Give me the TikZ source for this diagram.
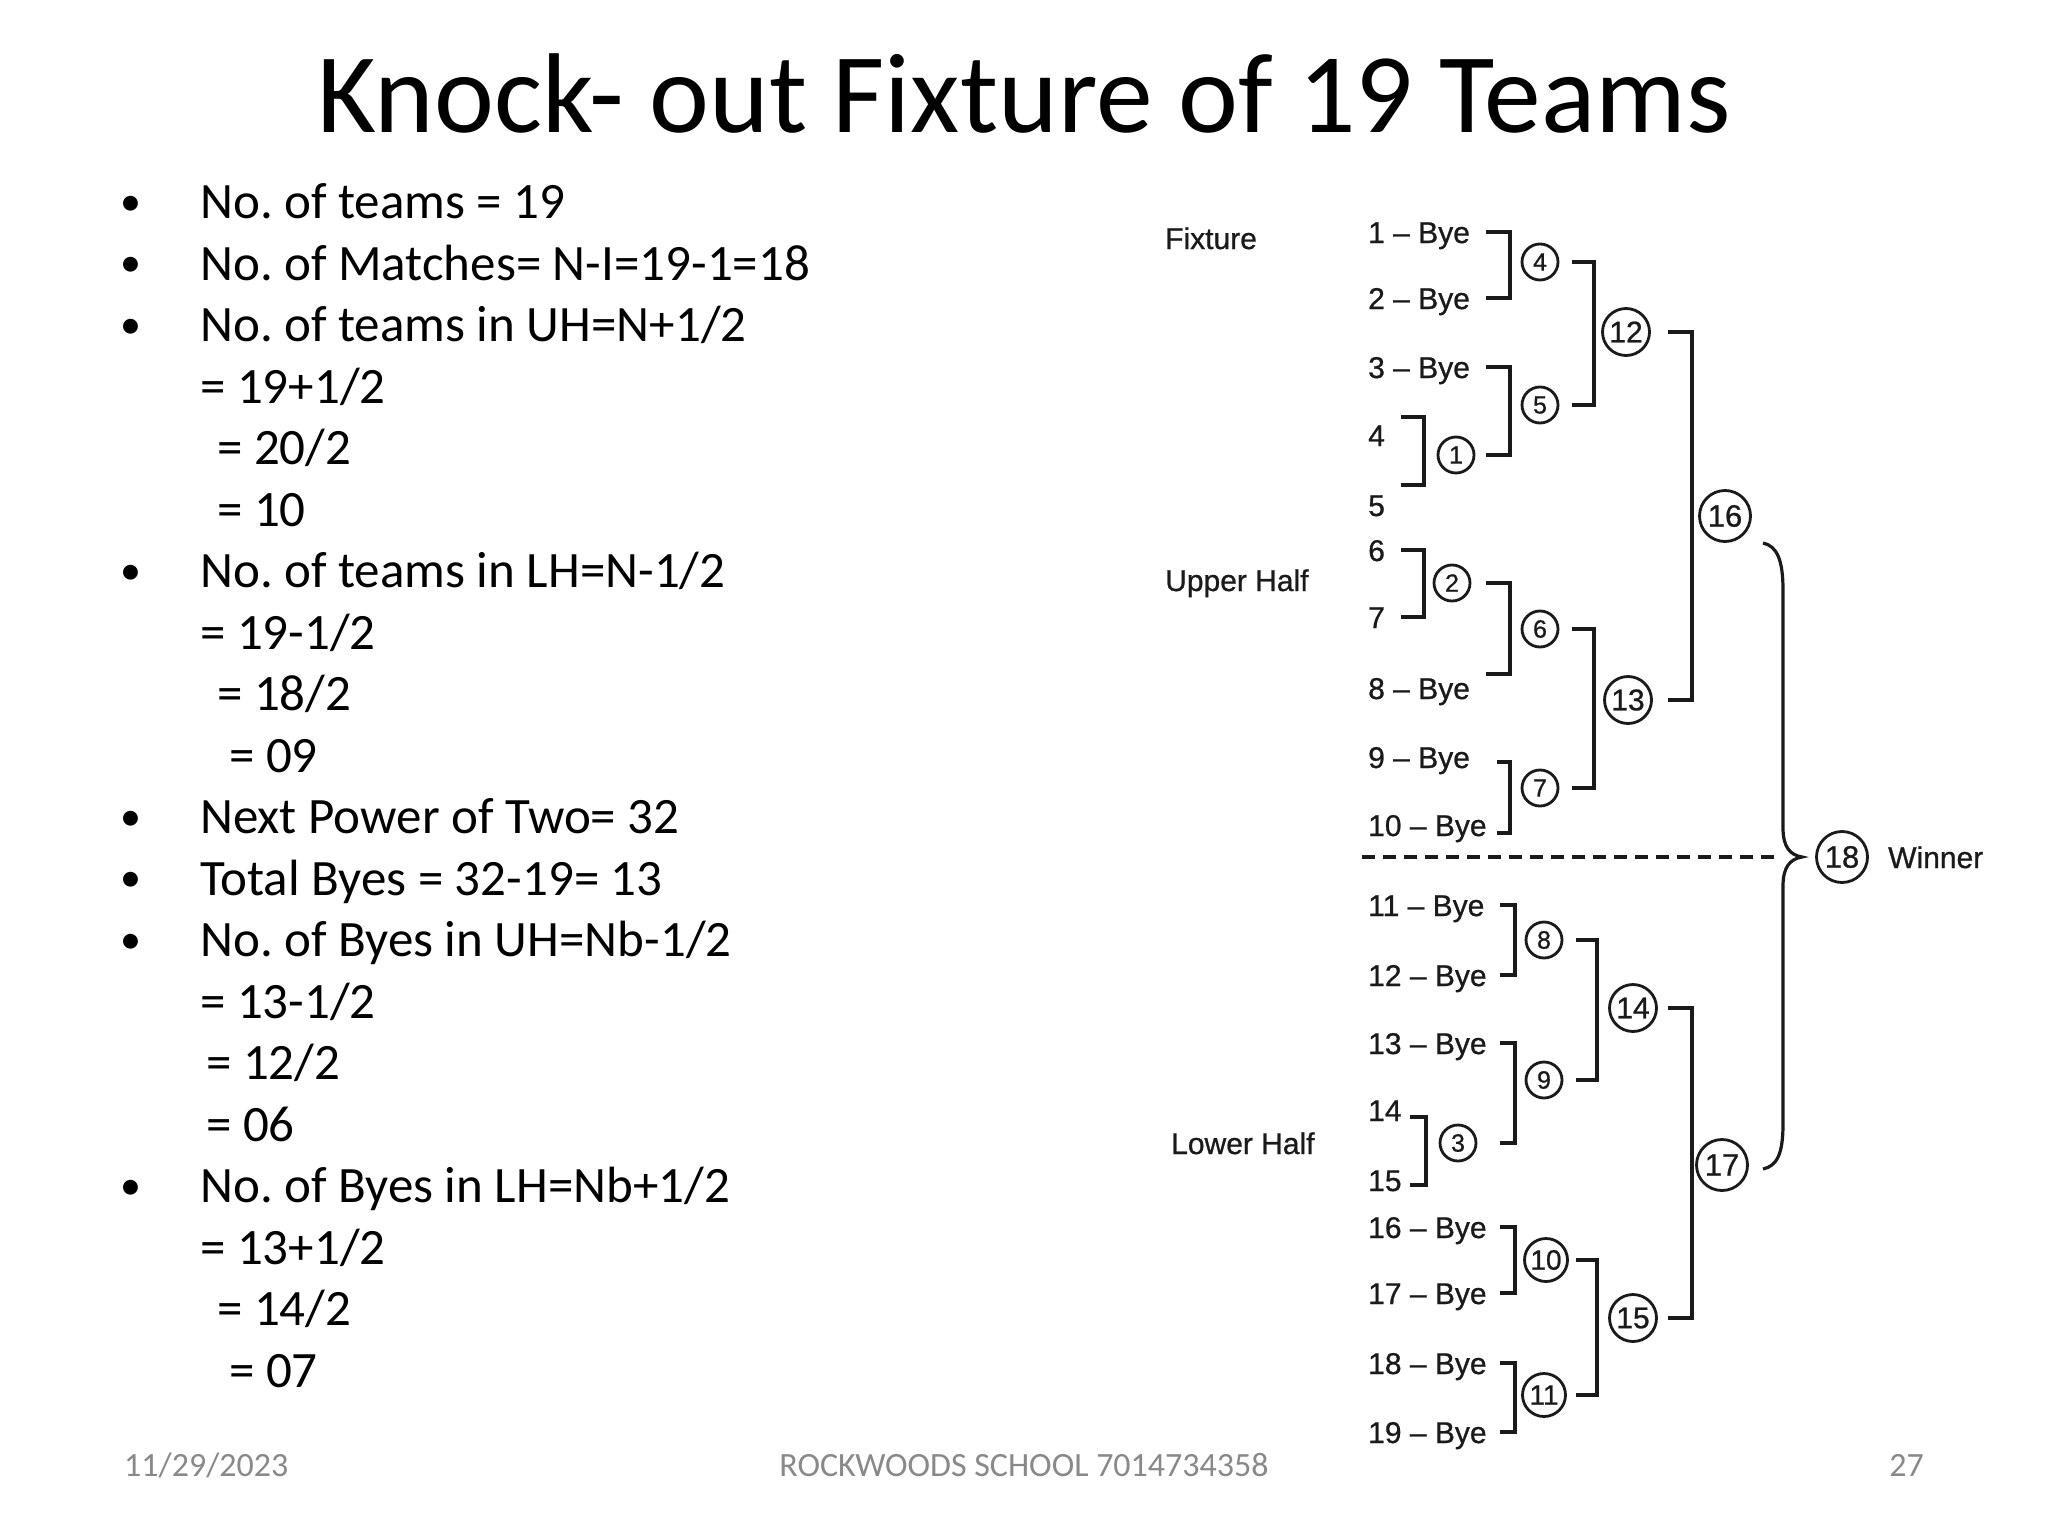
\documentclass[tikz,border=0pt]{standalone}
\usepackage{fontspec}
\setmainfont{Carlito}
\newfontfamily\arialf[FakeBold=0.8]{Liberation Sans}
\definecolor{ink}{HTML}{1A1A1A}
\definecolor{footgray}{HTML}{898989}
\newcommand{\brk}[4]{\draw[br] (#1 -| #3) -- (#1 -| #4) -- (#2 -| #4) -- (#2 -| #3);}
\frenchspacing
\begin{document}
\begin{tikzpicture}[x=1pt,y=-1pt]
\tikzset{
  titletxt/.style={anchor=base, inner sep=0pt, font=\fontsize{113.5}{113.5}\selectfont},
  bodytxt/.style={anchor=base west, inner sep=0pt, font=\fontsize{51}{61}\selectfont},
  bullettxt/.style={anchor=base, inner sep=0pt, font=\fontsize{42}{50}\selectfont},
  foottxt/.style={inner sep=0pt, text=footgray, font=\fontsize{34}{34}\selectfont},
  teamlbl/.style={anchor=west, inner sep=0pt, text height=22pt, text depth=0pt, text=ink, font=\arialf\fontsize{30}{30}\selectfont},
  sidelbl/.style={anchor=west, inner sep=0pt, text height=22pt, text depth=0pt, text=ink, font=\arialf\fontsize{30}{30}\selectfont},
  rnd/.style={circle, draw=ink, line width=2.8pt, inner sep=0pt, minimum size=36pt, text=ink, font=\arialf\fontsize{25}{25}\selectfont},
  rndm/.style={rnd, minimum size=43pt, font=\arialf\fontsize{28}{28}\selectfont},
  rndl/.style={rnd, minimum size=47pt, font=\arialf\fontsize{30}{30}\selectfont},
  rndx/.style={rnd, minimum size=51pt, font=\arialf\fontsize{31}{31}\selectfont},
  br/.style={draw=ink, line width=3.6pt},
  dashln/.style={draw=ink, line width=3.4pt, dash pattern=on 13pt off 8pt},
}
\fill[white] (0,0) rectangle (2048,1536);
\useasboundingbox (0,0) rectangle (2048,1536);

% title
\node[titletxt] (title) at (1024,132) {Knock- out Fixture of 19 Teams};

% left column
\foreach \i/\x/\t in {
  0/200/{No. of teams = 19},
  1/200/{No. of Matches= N-I=19-1=18},
  2/200/{No. of teams in UH=N+1/2},
  3/200/{= 19+1/2},
  4/217/{= 20/2},
  5/217/{= 10},
  6/200/{No. of teams in LH=N-1/2},
  7/200/{= 19-1/2},
  8/217/{= 18/2},
  9/229/{= 09},
  10/200/{Next Power of Two= 32},
  11/200/{Total Byes = 32-19= 13},
  12/200/{No. of Byes in UH=Nb-1/2},
  13/200/{= 13-1/2},
  14/206/{= 12/2},
  15/206/{= 06},
  16/200/{No. of Byes in LH=Nb+1/2},
  17/200/{= 13+1/2},
  18/217/{= 14/2},
  19/229/{= 07}}
  \node[bodytxt] (l\i) at (\x,218.5+61.5*\i) {\t};
\foreach \i in {0,1,2,6,10,11,12,16}
  \node[bullettxt] (b\i) at (131,215+61.5*\i) {•};

% footer
\node[foottxt, anchor=base west] (fdate) at (124,1476) {11/29/2023};
\node[foottxt, anchor=base] (fschool) at (1024,1476) {ROCKWOODS SCHOOL 7014734358};
\node[foottxt, anchor=base east] (fpage) at (1924,1476) {27};

% side labels
\node[sidelbl] (fix) at (1165,238) {Fixture};
\node[sidelbl] (uph) at (1165,580) {Upper Half};
\node[sidelbl] (loh) at (1171,1143) {Lower Half};

% teams
\foreach \n/\y/\t in {1/232/{1 – Bye},2/298/{2 – Bye},3/367/{3 – Bye},4/435/4,5/505/5,6/550/6,7/617/7,8/688/{8 – Bye},9/757/{9 – Bye},10/825/{10 – Bye},11/905/{11 – Bye},12/975/{12 – Bye},13/1043/{13 – Bye},14/1110/14,15/1180/15,16/1227/{16 – Bye},17/1293/{17 – Bye},18/1363/{18 – Bye},19/1432/{19 – Bye}}
  \node[teamlbl] (t\n) at (1368,\y) {\t};

% match circles
\node[rnd] (c1) at (1456,455) {1};
\node[rnd] (c2) at (1452,583) {2};
\node[rnd] (c3) at (1458,1143) {3};
\node[rnd] (c4) at (1540,262) {4};
\node[rnd] (c5) at (1540,405) {5};
\node[rnd] (c6) at (1540,629) {6};
\node[rnd] (c7) at (1540,788) {7};
\node[rnd] (c8) at (1544,940) {8};
\node[rnd] (c9) at (1544,1080) {9};
\node[rndm] (c10) at (1546,1260) {10};
\node[rndm] (c11) at (1544,1395) {11};
\node[rndl] (c12) at (1626,332) {12};
\node[rndl] (c13) at (1628,700) {13};
\node[rndl] (c14) at (1633,1008) {14};
\node[rndl] (c15) at (1633,1318) {15};
\node[rndx] (c16) at (1725,516) {16};
\node[rndx] (c17) at (1722,1165) {17};
\node[rndx] (c18) at (1842,857) {18};
\node[sidelbl] (win) at (1888,857) {Winner};

% x positions of ticks and verticals
\coordinate (sa) at (1401,0);  \coordinate (va) at (1424,0);
\coordinate (sa3) at (1410,0); \coordinate (va3) at (1426,0);
\coordinate (sb) at (1486,0);  \coordinate (vb) at (1510,0);
\coordinate (sb7) at (1497,0);
\coordinate (sc) at (1500,0);  \coordinate (vc) at (1515,0);
\coordinate (sd) at (1572,0);  \coordinate (vd) at (1594,0);
\coordinate (sd2) at (1576,0); \coordinate (vd2) at (1597,0);
\coordinate (se) at (1668,0);  \coordinate (ve) at (1692,0);

% shifted tick levels
\coordinate (k4) at ([yshift=18pt]t4.center);
\coordinate (k5) at ([yshift=20pt]t5.center);
\coordinate (k8) at ([yshift=14pt]t8.center);
\coordinate (k9) at ([yshift=-5pt]t9.center);
\coordinate (k10) at ([yshift=-8pt]t10.center);
\coordinate (k14) at ([yshift=-7pt]t14.center);
\coordinate (k15) at ([yshift=-5pt]t15.center);

% brackets
\brk{k4}{k5}{sa}{va}
\brk{t6}{t7}{sa}{va}
\brk{k14}{k15}{sa3}{va3}
\brk{t1}{t2}{sb}{vb}
\brk{t3}{c1}{sb}{vb}
\brk{c2}{k8}{sb}{vb}
\brk{k9}{k10}{sb7}{vb}
\brk{t11}{t12}{sc}{vc}
\brk{t13}{c3}{sc}{vc}
\brk{t16}{t17}{sc}{vc}
\brk{t18}{t19}{sc}{vc}
\brk{c4}{c5}{sd}{vd}
\brk{c6}{c7}{sd}{vd}
\brk{c8}{c9}{sd2}{vd2}
\brk{c10}{c11}{sd2}{vd2}
\brk{c12}{c13}{se}{ve}
\brk{c14}{c15}{se}{ve}

% brace to the winner
\coordinate (bt) at (1763,543);
\coordinate (bb) at (1763,1169);
\coordinate (tip) at (1802,857);
\draw[br, line width=3.2pt] (bt) .. controls (1777,546) and (1783,560) .. (1783,590) -- (1783,828) .. controls (1783,847) and (1790,855) .. (tip) .. controls (1790,859) and (1783,867) .. (1783,886) -- (1783,1124) .. controls (1783,1154) and (1777,1166) .. (bb);

% dashed divider
\coordinate (dl) at (1362,857);
\draw[dashln] (dl) -- ([xshift=-22pt]tip);
\end{tikzpicture}
\end{document}
